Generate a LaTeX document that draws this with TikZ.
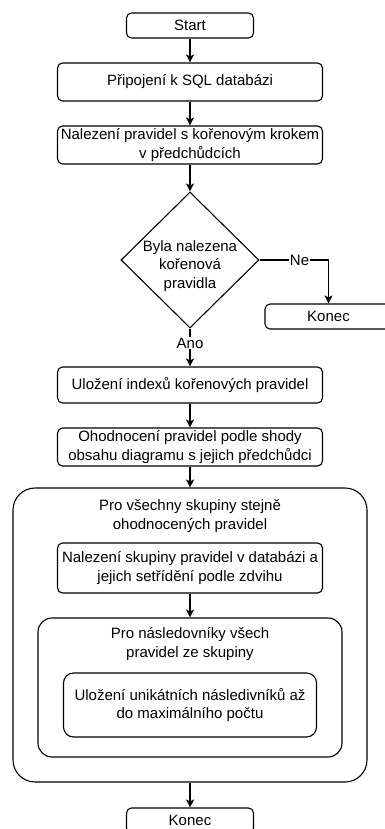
\documentclass[tikz,border=0pt]{standalone}
\usepackage{fontspec}
\setmainfont{Liberation Sans}
\usetikzlibrary{arrows.meta,shapes.geometric,positioning}
\tikzset{
    >={Stealth[length=8pt, width=8pt, inset=2pt]},
    krok/.style={
           rectangle, rounded corners=5pt,
           draw=black, line width=1.1pt,
           minimum width=265pt,
           minimum height=38pt,
           inner sep=1pt,
           align=center},
    rozhod/.style={
           diamond,
           draw=black, line width=1.1pt,
           minimum width=138pt, minimum height=136pt,
           inner sep=-14pt,
           align=center},
    smycka/.style={
           rectangle,
           draw=black, line width=1.1pt},
    popis/.style={
           fill=white,
           inner sep=1pt},
    pil/.style={
           ->,
           line width=1.1pt}
}

\begin{document}
\begin{tikzpicture}[x=1pt,y=1pt]
          \def \stred {190}
          \fontsize{15pt}{18.5pt}\selectfont
          \useasboundingbox (0,0) rectangle (384,-829);
          % smycky
          \node[smycka, rounded corners=22pt, minimum width=354pt, minimum height=294pt](smyckaA) at (\stred,-635) {};
          \node[smycka, rounded corners=14pt, minimum width=304pt, minimum height=139pt](smyckaB) at (\stred,-687.5) {};
          \node[align=center](nadpisA) at (\stred,-516) {Pro všechny skupiny stejně\\ohodnocených pravidel};
          \node[align=center](nadpisB) at (\stred,-644) {Pro následovníky všech\\pravidel ze skupiny};
          % kroky
          \node[krok, minimum width=127pt, minimum height=25pt](start) at (\stred,-25.5) {Start};
          \node[krok](pripojeni) at (\stred,-82) {Připojení k SQL databázi};
          \node[krok](nalezeni) at (\stred,-145) {Nalezení pravidel s kořenovým krokem\\v předchůdcích};
          \node[rozhod](rozhodnuti) at (\stred,-260) {\rule{0pt}{23pt}Byla nalezena\\kořenová\\pravidla};
          \node[krok, minimum width=127pt, minimum height=25pt](konecA) at (328.5,-316.5) {Konec};
          \node[krok, minimum height=36pt](indexy) at (\stred,-385) {Uložení indexů kořenových pravidel};
          \node[krok](ohodnoceni) at (\stred,-447) {Ohodnocení pravidel podle shody\\obsahu diagramu s jejich předchůdci};
          \node[krok, minimum height=50pt](skupina) at (\stred,-568) {Nalezení skupiny pravidel v databázi a\\jejich setřídění podle zdvihu};
          \node[krok, rounded corners=10pt, minimum width=253pt, minimum height=64pt](unikatni) at (\stred,-705) {Uložení unikátních následivníků až\\do maximálního počtu};
          \node[krok, minimum width=127pt, minimum height=25pt](konecB) at (\stred,-820.5) {Konec};
          % spoje
          \draw[pil] (start) -- (pripojeni);
          \draw[pil] (pripojeni) -- (nalezeni);
          \draw[pil] (nalezeni) -- (rozhodnuti);
          \draw[pil] (rozhodnuti.east) -| node[popis, pos=0.29]{Ne} (konecA);
          \draw[pil] (rozhodnuti) -- node[popis, pos=0.38]{Ano} (indexy);
          \draw[pil] (indexy) -- (ohodnoceni);
          \draw[pil] (ohodnoceni) -- (smyckaA);
          \draw[pil] (skupina) -- (smyckaB);
          \draw[pil] (smyckaA) -- (konecB);
         \end{tikzpicture}
\end{document}
